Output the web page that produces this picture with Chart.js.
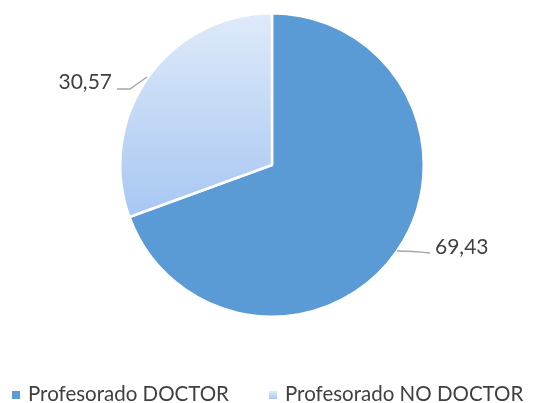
<!DOCTYPE html>
<html><head><meta charset="utf-8">
<script src="https://cdn.jsdelivr.net/npm/chart.js@4/dist/chart.umd.min.js"></script>
<style>html,body{margin:0;padding:0;background:#fff}#wrap{width:547px;height:403px}</style>
</head><body><div id="wrap"><canvas id="c" width="547" height="403"></canvas></div>
<script>
const categories = ["Profesorado DOCTOR", "Profesorado NO DOCTOR"];
const values = [69.43, 30.57];
const valueLabels = ["69,43", "30,57"];

const FONT = "Lato, 'Liberation Sans', sans-serif";
const TEXT = "#404040";

function lightGrad(chart){
  const ca = chart.chartArea;
  if(!ca) return "#c3d8f5";
  const g = chart.ctx.createLinearGradient(0, ca.top, 0, ca.top + (ca.bottom-ca.top)*0.67);
  g.addColorStop(0, "#dfeaf9");
  g.addColorStop(1, "#a7c7f2");
  return g;
}

const labelPlugin = {
  id: "labelsAndLegend",
  afterDraw(chart){
    const ctx = chart.ctx;
    ctx.save();
    ctx.strokeStyle = "#a6a6a6";
    ctx.lineWidth = 1.5;
    // leader lines
    ctx.beginPath();
    ctx.moveTo(397,251); ctx.quadraticCurveTo(412,251,430,253);
    ctx.stroke();
    ctx.beginPath();
    ctx.moveTo(147,77); ctx.lineTo(130,89); ctx.lineTo(117,89);
    ctx.stroke();
    ctx.fillStyle = TEXT;
    ctx.font = "21px " + FONT;
    ctx.textBaseline = "middle";
    ctx.textAlign = "left";
    ctx.fillText(valueLabels[0], 435, 247);
    ctx.textAlign = "right";
    ctx.fillText(valueLabels[1], 112, 82);
    // legend
    const items = [{x:12, tx:28}, {x:269, tx:285}];
    ctx.font = "20.5px " + FONT;
    ctx.textAlign = "left";
    ctx.textBaseline = "middle";
    items.forEach((it, k)=>{
      if(k===1){
        const g = ctx.createLinearGradient(0,391,0,399);
        g.addColorStop(0,"#dfeaf9"); g.addColorStop(1,"#a7c7f2");
        ctx.fillStyle = g;
      } else ctx.fillStyle = "#5b9bd5";
      ctx.fillRect(it.x, 391, 8, 8);
      ctx.fillStyle = TEXT;
      ctx.fillText(categories[k], it.tx, 394);
    });
    ctx.restore();
  }
};

new Chart(document.getElementById("c"), {
  type: "pie",
  data: {
    labels: categories,
    datasets: [{
      data: values,
      backgroundColor: (c)=> c.dataIndex===0 ? "#5b9bd5" : lightGrad(c.chart),
      borderColor: "#ffffff",
      borderWidth: 2.5
    }]
  },
  options: {
    responsive: false,
    animation: false,
    layout: { padding: { left: 119, right: 122, top: 12, bottom: 85 } },
    plugins: { legend: { display: false }, tooltip: { enabled: false } }
  },
  plugins: [labelPlugin]
});
</script></body></html>
